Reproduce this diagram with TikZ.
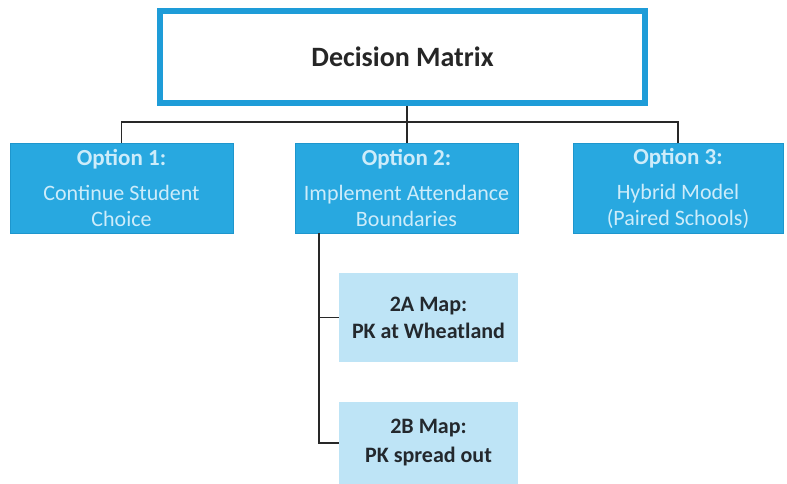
\documentclass[tikz,border=0pt]{standalone}
\usepackage{fontspec}
\setmainfont{Carlito}
\definecolor{topblue}{RGB}{30,156,216}
\definecolor{optblue}{RGB}{40,168,224}
\definecolor{optedge}{RGB}{30,150,205}
\definecolor{opttext}{RGB}{205,236,250}
\definecolor{subblue}{RGB}{190,228,246}
\definecolor{subtext}{RGB}{35,40,45}
\definecolor{linecol}{RGB}{40,40,40}
\tikzset{
  topbox/.style={draw=topblue, line width=6pt, fill=white, minimum width=485pt, minimum height=92pt, inner sep=0pt,
    font=\fontsize{28}{32}\selectfont\bfseries, text=black!85},
  optbox/.style={draw=optedge, line width=0.8pt, fill=optblue, minimum height=90pt, inner sep=0pt, align=center,
    font=\fontsize{22}{26}\selectfont, text=opttext},
  opthead/.style={},
  subbox/.style={fill=subblue, minimum width=179pt, inner sep=0pt, align=center,
    font=\fontsize{22}{27}\selectfont\bfseries, text=subtext},
  conn/.style={draw=linecol, line width=1.8pt}
}
\newcommand{\ohead}[1]{{\fontsize{23}{26}\selectfont\bfseries #1}}
\begin{document}
\begin{tikzpicture}[x=1pt,y=-1pt]
\useasboundingbox (0,0) rectangle (787,484);
\node[topbox] (top) at (402.5,57) {Decision Matrix};
\node[optbox, minimum width=223pt] (o1) at (121.5,188) {\ohead{Option 1:}\\[9pt]Continue Student\\Choice};
\node[optbox, minimum width=223pt] (o2) at (406.5,188) {\ohead{Option 2:}\\[9pt]Implement Attendance\\Boundaries};
\node[optbox, minimum width=210pt] (o3) at (678,188) {\ohead{Option 3:}\\[9pt]Hybrid Model\\(Paired Schools)};
\node[subbox, minimum height=89pt] (a) at (428.5,317.5) {2A Map:\\PK at Wheatland};
\node[subbox, minimum height=82pt] (b) at (428.5,443) {2B Map:\\[2pt]PK spread out};
\coordinate (bus) at (407,122);
\draw[conn] (top.south -| bus) -- (bus);
\draw[conn] (bus) -| (o1.north);
\draw[conn] (bus) -| (o3.north);
\draw[conn] (bus) -- (o2.north -| bus);
\coordinate (trunk) at (319,233);
\draw[conn] (o2.south -| trunk) |- (a.west);
\draw[conn] (o2.south -| trunk) |- (b.west);
\end{tikzpicture}
\end{document}
